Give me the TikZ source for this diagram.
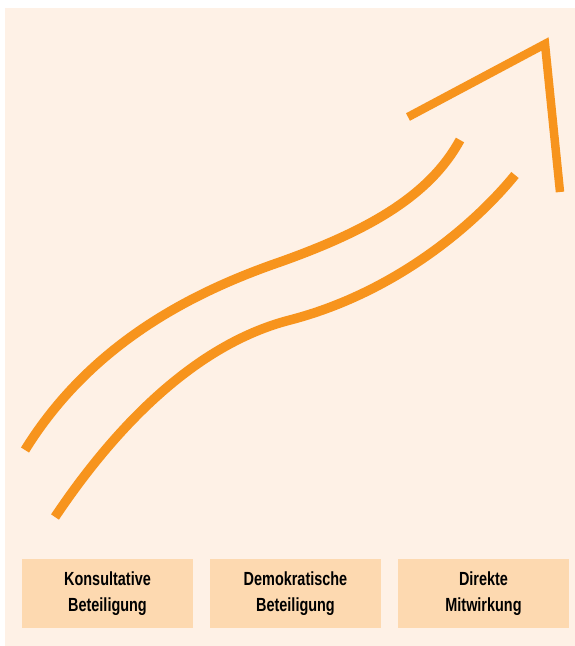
\documentclass[tikz,border=0pt]{standalone}
\usepackage{fontspec}
\setmainfont{Liberation Sans}[FakeStretch=0.76]
\definecolor{bgc}{HTML}{FEF1E6}
\definecolor{boxc}{HTML}{FDD9B0}
\definecolor{orng}{HTML}{F7941D}
\begin{document}
\begin{tikzpicture}[x=1pt,y=-1pt,
  stage/.style={fill=boxc,minimum width=171pt,minimum height=69pt,inner sep=0pt,align=center,
    font=\bfseries\fontsize{19}{26}\selectfont,text=black},
  swoosh/.style={draw=orng,line width=9.5pt}]
\useasboundingbox (0,0) rectangle (575,646);
\fill[bgc] (5,8) rectangle (575,646);
\draw[swoosh] (25,450) .. controls (90,345) and (190,293) .. (280,262) .. controls (370,230) and (430,195) .. (460,140);
\draw[swoosh] (55,517) .. controls (120,420) and (200,343) .. (290,320) .. controls (390,294) and (470,230) .. (515,175);
\draw[swoosh,line width=8.5pt,miter limit=10] (408,117) -- (545,44) -- (560,192);
\node[stage] (k) at (107.5,593.5) {Konsultative\\Beteiligung};
\node[stage] (d) at (295.5,593.5) {Demokratische\\Beteiligung};
\node[stage] (m) at (483.5,593.5) {Direkte\\Mitwirkung};
\end{tikzpicture}
\end{document}
